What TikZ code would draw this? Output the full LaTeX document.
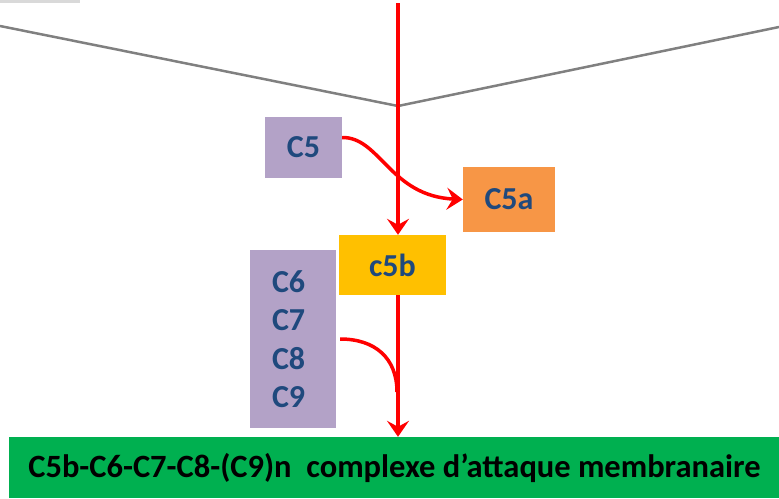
\documentclass[tikz,border=0pt]{standalone}
\usepackage{fontspec}
\setmainfont{Carlito}
\usetikzlibrary{arrows.meta}

\definecolor{lilac}{HTML}{B3A2C7}
\definecolor{peach}{HTML}{F79646}
\definecolor{gold}{HTML}{FFC000}
\definecolor{leaf}{HTML}{00B050}
\definecolor{ink}{HTML}{1F497D}

\begin{document}
\begin{tikzpicture}[x=1pt,y=-1pt,
  comp/.style={rectangle,inner sep=0pt,text=ink,font=\bfseries\fontsize{32}{38.5}\selectfont},
  react/.style={red,line width=3.5pt},
  tip/.style={-{Stealth[length=16pt,width=22pt,inset=6pt]}}]
\useasboundingbox (0,0) rectangle (779,498);

% membrane edge
\fill[black!15] (0,0) rectangle (80,3);
\coordinate (vleft) at (0,26);
\coordinate (vtip) at (398,106);
\coordinate (vright) at (779,27);
\draw[gray,line width=2.5pt] (vleft) -- (vtip) -- (vright);

% complement components
\node[comp,fill=lilac,minimum width=77,minimum height=61] (c5) at (303.5,147.5) {C5};
\node[comp,fill=peach,minimum width=92,minimum height=65] (c5a) at (509,199.5) {C5a};
\node[comp,fill=gold,minimum width=107,minimum height=60] (c5b) at (392.5,265) {c5b};
\node[comp,fill=lilac,text width=42,inner xsep=22,minimum height=178,align=left] (c69) at (293,339) {C6\\C7\\C8\\C9};
\node[rectangle,fill=leaf,minimum width=771,minimum height=61,inner sep=0pt,
  font=\bfseries\fontsize{32.5}{34}\selectfont] (mac) at (394.5,467.5)
  {C5b-C6-C7-C8-(C9)n\ \ complexe d'attaque membranaire};

% cleavage path
\coordinate (top) at (398,3);
\coordinate (join) at (397,392);
\draw[react,tip] (top) -- (top |- c5b.north);
\draw[react,tip] ([yshift=10pt]c5.east) .. controls (380,137) and (390,196) .. (c5a.west);
\draw[react,tip] (top |- c5b.south) -- (top |- mac.north);
\draw[react] ([xshift=4pt]c69.east) .. controls (375,339) and (397,358) .. (join);
\end{tikzpicture}
\end{document}
